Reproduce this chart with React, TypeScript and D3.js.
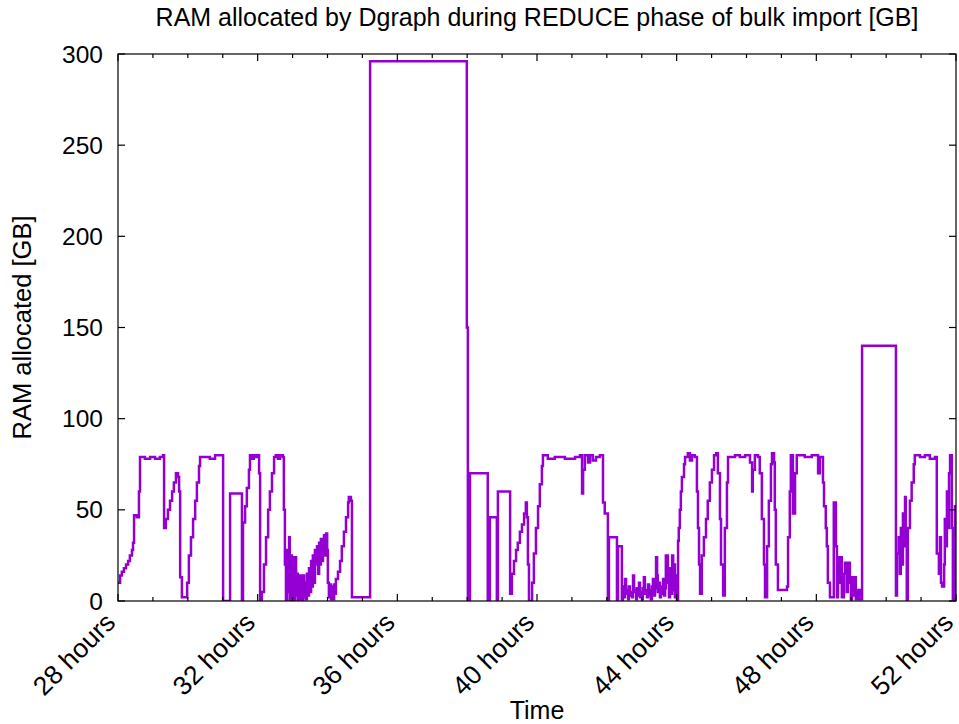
import React from "react";
import * as d3 from "d3";

const title = "RAM allocated by Dgraph during REDUCE phase of bulk import [GB]";
const xLabel = "Time";
const yLabel = "RAM allocated [GB]";
const yTicks = [0, 50, 100, 150, 200, 250, 300];
const xMajorTicks = [28, 32, 36, 40, 44, 48, 52];
const xMinorTicks = d3.range(28, 53, 1);

// time in hours
const hours = [
  28.00, 28.06, 28.11, 28.17, 28.23, 28.29, 28.34, 28.40, 28.43, 28.46, 28.54, 28.60, 28.63, 28.77, 28.92,
  29.06, 29.20, 29.29, 29.32, 29.37, 29.43, 29.49, 29.55, 29.60, 29.66, 29.72, 29.75, 29.78, 29.83,
  29.98, 30.03, 30.09, 30.15, 30.21, 30.26, 30.32, 30.35, 30.63, 30.78,
  31.01, 31.21, 31.55, 31.58, 31.64, 31.69, 31.75, 31.78, 31.84, 31.89, 31.95,
  32.01, 32.04, 32.07, 32.12, 32.18, 32.24, 32.30, 32.35, 32.41, 32.47, 32.52, 32.58, 32.64, 32.72, 32.75,
  32.78, 32.81, 32.84, 32.87, 32.90, 32.92, 32.95, 32.98,
  33.01, 33.04, 33.07, 33.10, 33.13, 33.15, 33.18, 33.21, 33.24, 33.27, 33.30, 33.33, 33.36, 33.38, 33.41,
  33.44, 33.47, 33.50, 33.53, 33.56, 33.58, 33.61, 33.64, 33.67, 33.70, 33.73, 33.76, 33.79, 33.81, 33.84,
  33.87, 33.90, 33.93, 33.96, 33.99,
  34.01, 34.04, 34.07, 34.10, 34.13, 34.16, 34.19, 34.21, 34.24, 34.30, 34.36, 34.41, 34.47, 34.53, 34.59,
  34.61, 34.67, 34.70,
  35.22,
  37.99, 38.02, 38.08, 38.59, 38.65, 38.85, 38.88,
  39.23, 39.28, 39.34, 39.40, 39.45, 39.51, 39.57, 39.63, 39.68, 39.71, 39.74, 39.77, 39.86, 39.91, 39.97,
  40.03, 40.08, 40.14, 40.17, 40.31, 40.51, 40.80,
  41.09, 41.23, 41.29, 41.32, 41.37, 41.46, 41.52, 41.60, 41.69, 41.80, 41.89, 41.94,
  42.03, 42.06, 42.29, 42.32, 42.43, 42.46, 42.49, 42.52, 42.55, 42.58, 42.61, 42.63, 42.66, 42.69, 42.72,
  42.75, 42.78, 42.81, 42.84, 42.86, 42.89, 42.92, 42.95, 42.98,
  43.01, 43.03, 43.06, 43.09, 43.12, 43.15, 43.18, 43.21, 43.23, 43.26, 43.29, 43.32, 43.35, 43.38, 43.41,
  43.44, 43.46, 43.49, 43.52, 43.55, 43.58, 43.61, 43.64, 43.67, 43.69, 43.75, 43.78, 43.81, 43.84, 43.87,
  43.90, 43.92, 43.95, 43.98,
  44.01, 44.04, 44.06, 44.09, 44.12, 44.15, 44.21, 44.24, 44.32, 44.38, 44.44, 44.52, 44.58, 44.61, 44.64,
  44.67, 44.72, 44.78, 44.84, 44.89, 44.95,
  45.01, 45.07, 45.13, 45.18, 45.24, 45.27, 45.33, 45.38, 45.44, 45.47, 45.67, 45.81, 45.96,
  46.10, 46.16, 46.18, 46.24, 46.33, 46.38, 46.44, 46.50, 46.53, 46.59, 46.64, 46.70, 46.73, 46.79, 46.81,
  46.84, 46.90,
  47.16, 47.19, 47.24, 47.27, 47.33, 47.39, 47.44, 47.67, 47.87,
  48.05, 48.10, 48.19, 48.22, 48.27, 48.30, 48.33, 48.39, 48.50, 48.56, 48.59, 48.62, 48.67, 48.70, 48.73,
  48.79, 48.82, 48.87, 48.90, 48.96,
  48.99, 49.02, 49.08, 49.11, 49.13, 49.16, 49.22, 49.25, 49.28, 49.31,
  50.28, 50.31, 50.36, 50.39, 50.42, 50.45, 50.48, 50.51, 50.54, 50.56, 50.59, 50.62, 50.68, 50.73, 50.79,
  50.82, 50.97,
  51.11, 51.25, 51.40, 51.45, 51.51, 51.54, 51.57, 51.60, 51.66, 51.68, 51.71, 51.74, 51.77, 51.80, 51.83,
  51.88, 51.91, 51.97, 52.00,
];

// RAM allocated in GB
const ramGB = [
  10, 14, 16, 18, 20, 22, 25, 28, 32, 47, 46, 60, 79, 78, 79,
  78, 79, 80, 40, 45, 50, 55, 60, 65, 70, 68, 60, 13, 2,
  10, 25, 35, 45, 55, 65, 74, 79, 78, 80,
  0, 59, 0, 43, 52, 62, 72, 80, 78, 80, 79,
  80, 70, 0, 5, 20, 35, 50, 60, 70, 79, 80, 78, 80, 79, 50,
  20, 0, 28, 5, 35, 0, 25, 2,
  24, 0, 24, 3, 15, 0, 14, 1, 14, 0, 14, 2, 10, 1, 15,
  3, 18, 5, 22, 8, 25, 10, 28, 20, 30, 15, 32, 20, 34, 22,
  30, 36, 25, 37, 28,
  10, 2, 9, 1, 8, 1, 9, 4, 12, 16, 22, 30, 38, 46, 54,
  57, 55, 2,
  296,
  150, 0, 70, 0, 46, 0, 60,
  4, 15, 22, 28, 32, 38, 42, 48, 54, 46, 20, 0, 10, 26, 40,
  52, 64, 74, 80, 78, 79, 78,
  79, 80, 59, 72, 80, 76, 80, 77, 79, 80, 54, 48,
  0, 35, 0, 30, 0, 8, 2, 12, 4, 6, 1, 8, 3, 5, 2,
  14, 5, 6, 1, 7, 3, 10, 2, 5,
  1, 7, 13, 4, 6, 2, 9, 3, 6, 1, 8, 12, 3, 7, 24,
  14, 5, 10, 2, 8, 4, 12, 3, 7, 25, 10, 2, 18, 4, 25,
  6, 20, 2, 14,
  0, 33, 40, 50, 60, 68, 75, 79, 81, 77, 80, 79, 60, 40, 20,
  4, 25, 35, 45, 55, 65,
  72, 80, 81, 70, 45, 20, 3, 40, 65, 79, 80, 79, 80,
  76, 60, 72, 80, 79, 70, 45, 20, 2, 30, 55, 75, 81, 76, 50,
  20, 6,
  8, 35, 60, 80, 48, 70, 80, 79, 80,
  70, 79, 65, 52, 40, 30, 10, 2, 54, 30, 2, 24, 10, 24, 2,
  15, 21, 5, 21, 10,
  1, 13, 3, 13, 1, 6, 1, 6, 1, 140,
  3, 26, 35, 15, 40, 20, 48, 30, 57, 35, 0, 40, 55, 65, 75,
  80, 79,
  80, 78, 79, 26, 15, 35, 10, 8, 20, 45, 30, 60, 40, 70, 80,
  40, 0, 52, 52,
];

const W = 959;
const H = 724;
const margin = { left: 118, right: 3, top: 54, bottom: 123 };
const FONT = "'Liberation Sans', Arial, sans-serif";
const LINE_COLOR = "#9400d3";

export default function App() {
  const x = d3.scaleLinear().domain([28, 52]).range([margin.left, W - margin.right]);
  const y = d3.scaleLinear().domain([0, 300]).range([H - margin.bottom, margin.top]);
  const x0 = x.range()[0];
  const x1 = x.range()[1];
  const yb = y.range()[0];
  const yt = y.range()[1];

  const data = hours.map((h, i) => [h, ramGB[i]] as [number, number]);
  const line = d3
    .line<[number, number]>()
    .x((d) => x(d[0]))
    .y((d) => y(d[1]))
    .curve(d3.curveStepAfter);

  const majorLen = 7;
  const minorLen = 4;

  return (
    <svg
      width={W}
      height={H}
      style={{ position: "absolute", left: 0, top: 0, background: "#fff" }}
      fontFamily={FONT}
    >
      <rect x={0} y={0} width={W} height={H} fill="#fff" />
      <defs>
        <clipPath id="plotclip">
          <rect x={x0} y={yt - 2} width={x1 - x0} height={yb - yt + 2} />
        </clipPath>
      </defs>
      <path
        d={line(data) || ""}
        fill="none"
        stroke={LINE_COLOR}
        strokeWidth={2.5}
        clipPath="url(#plotclip)"
      />
      {yTicks.map((t) => (
        <g key={"yt" + t}>
          <line x1={x0} x2={x0 + majorLen} y1={y(t)} y2={y(t)} stroke="#000" strokeWidth={1.2} />
          <line x1={x1} x2={x1 - majorLen} y1={y(t)} y2={y(t)} stroke="#000" strokeWidth={1.2} />
          <text
            x={x0 - 15}
            y={y(t)}
            textAnchor="end"
            dominantBaseline="central"
            fontSize={24.5}
            fill="#000"
          >
            {t}
          </text>
        </g>
      ))}
      {xMinorTicks.map((t) => {
        const len = xMajorTicks.includes(t) ? majorLen : minorLen;
        return (
          <g key={"xt" + t}>
            <line x1={x(t)} x2={x(t)} y1={yb} y2={yb - len} stroke="#000" strokeWidth={1.2} />
            <line x1={x(t)} x2={x(t)} y1={yt} y2={yt + len} stroke="#000" strokeWidth={1.2} />
          </g>
        );
      })}
      {xMajorTicks.map((t) => (
        <text
          key={"xl" + t}
          transform={`translate(${x(t) - 1},${yb + 23}) rotate(-45)`}
          textAnchor="end"
          fontSize={26.5}
          fill="#000"
        >
          {`${t} hours`}
        </text>
      ))}
      <rect x={x0} y={yt} width={x1 - x0} height={yb - yt} fill="none" stroke="#000" strokeWidth={1.2} />
      <text x={(x0 + x1) / 2} y={26} textAnchor="middle" fontSize={25} fill="#000">
        {title}
      </text>
      <text x={(x0 + x1) / 2} y={719} textAnchor="middle" fontSize={25} fill="#000">
        {xLabel}
      </text>
      <text
        transform={`translate(31,${(yt + yb) / 2}) rotate(-90)`}
        textAnchor="middle"
        fontSize={25.5}
        fill="#000"
      >
        {yLabel}
      </text>
    </svg>
  );
}
